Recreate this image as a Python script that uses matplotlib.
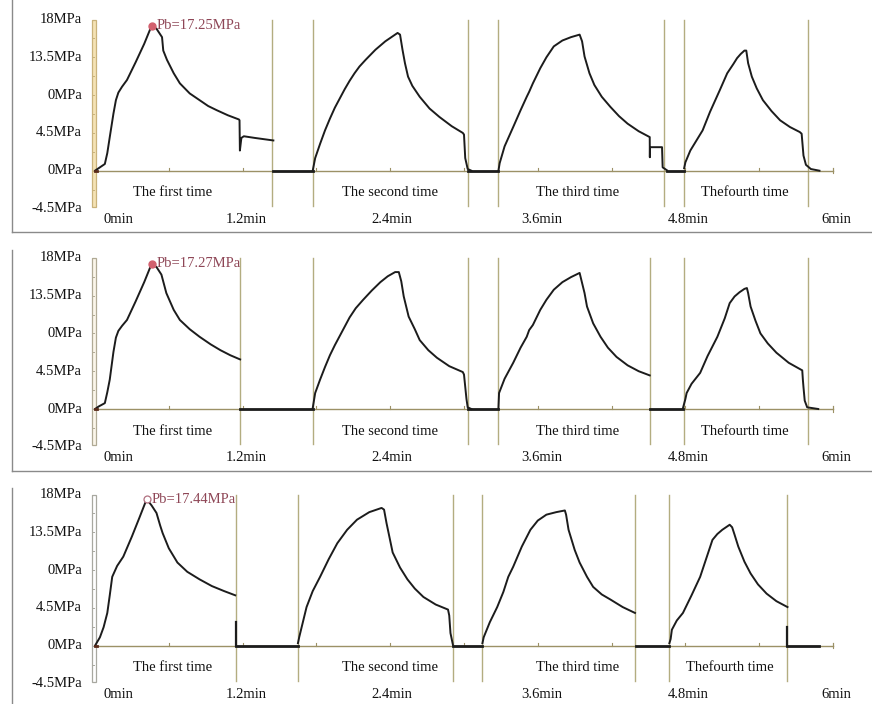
import matplotlib
matplotlib.use("Agg")
import matplotlib.pyplot as plt
from matplotlib.lines import Line2D
from matplotlib.patches import Rectangle

plt.rcParams['font.family'] = ['Liberation Serif', 'DejaVu Serif']

# y tick labels exactly as printed (the middle one says 0MPa in the source)
Y_VALUES = [18, 13.5, 9, 4.5, 0, -4.5]
Y_LABELS = ['18MPa', '13.5MPa', '0MPa', '4.5MPa', '0MPa', '-4.5MPa']
X_VALUES = [0, 1.2, 2.4, 3.6, 4.8, 6.0]
X_LABELS = ['0min', '1.2min', '2.4min', '3.6min', '4.8min', '6min']
RUN_NAMES = ['The first time', 'The second time', 'The third time', 'Thefourth time']

# ---- test 1 (top panel) ----
T1 = [
    [0, 0.03, 0.08, 0.10, 0.12, 0.15, 0.17, 0.19, 0.22, 0.26, 0.33, 0.40, 0.46, 0.50, 0.545,
     0.555, 0.585, 0.64, 0.69, 0.77, 0.85, 0.92, 0.99, 1.08, 1.17, 1.175, 1.178, 1.19, 1.21,
     1.30, 1.45],
    [1.77, 1.79, 1.83, 1.87, 1.91, 1.95, 1.99, 2.03, 2.07, 2.11, 2.15, 2.20, 2.24, 2.28, 2.32,
     2.36, 2.40, 2.44, 2.46, 2.48, 2.50, 2.52, 2.545, 2.58, 2.64, 2.72, 2.80, 2.90, 2.99, 3.00,
     3.01, 3.03, 3.06],
    [3.28, 3.29, 3.33, 3.40, 3.46, 3.51, 3.53, 3.56, 3.62, 3.67, 3.73, 3.80, 3.87, 3.94, 3.96,
     3.98, 4.02, 4.06, 4.12, 4.19, 4.26, 4.33, 4.42, 4.51, 4.511, 4.512, 4.61, 4.615, 4.65],
    [4.79, 4.80, 4.84, 4.89, 4.94, 5.00, 5.08, 5.14, 5.19, 5.22, 5.25, 5.28, 5.295, 5.31, 5.34,
     5.38, 5.43, 5.50, 5.57, 5.65, 5.73, 5.745, 5.76, 5.78, 5.82, 5.89],
]
P1 = [
    [0, 0.3, 0.8, 2.1, 4.0, 6.8, 8.4, 9.3, 10.0, 10.8, 12.9, 15.1, 17.25, 16.9, 15.9,
     14.3, 13.2, 11.6, 10.4, 9.2, 8.4, 7.7, 7.2, 6.6, 6.1, 6.0, 2.4, 3.9, 4.1, 3.9, 3.6],
    [0, 1.5, 3.2, 4.8, 6.2, 7.5, 8.6, 9.7, 10.7, 11.6, 12.4, 13.2, 13.8, 14.4, 14.9,
     15.4, 15.8, 16.2, 16.4, 16.2, 14.4, 12.8, 11.2, 10.1, 8.8, 7.4, 6.4, 5.3, 4.5, 4.3,
     1.5, 0.2, 0],
    [0, 0.9, 2.9, 5.2, 7.2, 8.8, 9.4, 10.4, 12.2, 13.5, 14.8, 15.5, 15.9, 16.2, 15.4,
     13.6, 11.6, 10.2, 8.8, 7.6, 6.5, 5.6, 4.7, 4.0, 1.6, 2.8, 2.8, 0.4, 0.05],
    [0.3, 1.0, 2.4, 3.6, 4.8, 7.0, 9.6, 11.6, 12.7, 13.4, 13.9, 14.3, 14.3, 12.8, 11.2,
     9.8, 8.4, 7.1, 6.0, 5.2, 4.6, 4.4, 1.8, 0.7, 0.2, 0],
]
FLAT1 = [(1.45, 1.77), (3.03, 3.28), (4.65, 4.79)]
DIV1 = [1.44, 1.77, 3.03, 3.28, 4.63, 4.79, 5.80]
PB1 = (0.46, 17.25, 'Pb=17.25MPa')

# ---- test 2 (middle panel) ----
T2 = [
    [0, 0.03, 0.08, 0.10, 0.12, 0.15, 0.17, 0.19, 0.22, 0.26, 0.33, 0.40, 0.46, 0.50, 0.54,
     0.56, 0.58, 0.64, 0.69, 0.77, 0.85, 0.94, 1.02, 1.10, 1.18],
    [1.77, 1.79, 1.83, 1.87, 1.91, 1.95, 1.99, 2.03, 2.07, 2.12, 2.18, 2.25, 2.32, 2.38, 2.44,
     2.47, 2.49, 2.51, 2.55, 2.60, 2.64, 2.71, 2.78, 2.88, 2.99, 3.00, 3.02, 3.03, 3.06],
    [3.28, 3.285, 3.33, 3.40, 3.46, 3.51, 3.53, 3.56, 3.62, 3.67, 3.73, 3.80, 3.87, 3.94,
     3.96, 3.98, 4.00, 4.05, 4.11, 4.17, 4.24, 4.33, 4.42, 4.51],
    [4.78, 4.80, 4.81, 4.85, 4.92, 4.98, 5.06, 5.12, 5.16, 5.20, 5.24, 5.28, 5.30, 5.31, 5.33,
     5.37, 5.41, 5.47, 5.54, 5.64, 5.75, 5.755, 5.76, 5.77, 5.79, 5.88],
]
P2 = [
    [0, 0.3, 0.7, 2.0, 3.5, 6.8, 8.5, 9.3, 9.9, 10.6, 12.8, 15.1, 17.27, 16.9, 16.0,
     14.9, 13.8, 11.8, 10.6, 9.5, 8.6, 7.7, 7.0, 6.4, 5.9],
    [0.1, 1.9, 3.5, 5.0, 6.4, 7.6, 8.7, 9.8, 10.9, 12.0, 13.0, 14.1, 15.1, 15.8, 16.3,
     16.3, 15.2, 13.4, 11.0, 9.5, 8.2, 7.0, 6.1, 5.1, 4.4, 4.1, 1.2, 0.2, 0],
    [0.1, 1.9, 3.6, 5.5, 7.3, 8.6, 9.4, 10.0, 11.8, 13.0, 14.2, 15.1, 15.7, 16.2,
     15.0, 13.8, 12.2, 10.2, 8.6, 7.3, 6.2, 5.2, 4.5, 4.0],
    [0.1, 1.2, 1.9, 3.0, 4.3, 6.3, 8.6, 10.8, 12.6, 13.4, 13.9, 14.3, 14.4, 13.8, 12.2,
     10.5, 9.0, 7.8, 6.7, 5.5, 4.6, 3.5, 2.6, 1.0, 0.2, 0],
]
FLAT2 = [(1.18, 1.77), (3.03, 3.28), (4.51, 4.78)]
DIV2 = [1.18, 1.77, 3.03, 3.28, 4.51, 4.79, 5.80]
PB2 = (0.46, 17.27, 'Pb=17.27MPa')

# ---- test 3 (bottom panel) ----
T3 = [
    [0, 0.04, 0.07, 0.10, 0.12, 0.14, 0.18, 0.23, 0.30, 0.36, 0.42, 0.46, 0.50, 0.53,
     0.55, 0.60, 0.67, 0.75, 0.85, 0.95, 1.05, 1.14],
    [1.65, 1.66, 1.69, 1.72, 1.77, 1.83, 1.90, 1.97, 2.05, 2.13, 2.23, 2.33, 2.35, 2.37,
     2.40, 2.42, 2.48, 2.54, 2.60, 2.67, 2.77, 2.87, 2.88, 2.89, 2.91],
    [3.15, 3.16, 3.21, 3.27, 3.32, 3.36, 3.40, 3.47, 3.54, 3.60, 3.67, 3.75, 3.82, 3.83,
     3.85, 3.90, 3.94, 4.00, 4.05, 4.12, 4.19, 4.29, 4.39],
    [4.67, 4.68, 4.69, 4.73, 4.78, 4.85, 4.92, 4.97, 5.02, 5.06, 5.10, 5.14, 5.16, 5.18, 5.20,
     5.23, 5.28, 5.33, 5.39, 5.46, 5.54, 5.63],
]
P3 = [
    [0, 1.0, 2.2, 3.9, 6.0, 8.2, 9.5, 10.6, 13.0, 15.2, 17.44, 16.7, 15.8, 14.3,
     13.4, 11.6, 9.9, 8.8, 7.9, 7.1, 6.5, 6.0],
    [0.3, 1.0, 2.8, 4.6, 6.5, 8.2, 10.3, 12.2, 13.8, 15.0, 15.9, 16.4, 16.2, 14.6,
     12.5, 11.1, 9.3, 7.9, 6.8, 5.8, 4.9, 4.3, 3.6, 1.5, 0.1],
    [0.3, 1.0, 2.8, 4.6, 6.4, 8.2, 9.4, 11.8, 13.8, 14.9, 15.6, 15.9, 16.1, 15.6,
     13.8, 11.4, 9.9, 8.2, 7.0, 6.1, 5.5, 4.6, 3.9],
    [0.3, 0.8, 1.9, 3.0, 3.9, 6.0, 8.2, 10.4, 12.6, 13.3, 13.8, 14.2, 14.4, 14.1, 13.2,
     11.8, 10.0, 8.6, 7.3, 6.2, 5.3, 4.6],
]
FLAT3 = [(1.15, 1.65), (2.91, 3.15), (4.40, 4.67), (5.63, 5.89)]
SPIKE3 = [(1.15, 2.8), (5.63, 2.2)]
DIV3 = [1.15, 1.65, 2.91, 3.15, 4.39, 4.67, 5.63]
PB3 = (0.42, 17.44, 'Pb=17.44MPa')

# ---- layout (pixels of the 872x704 picture) ----
W, H = 872, 704
PX_PER_MIN = 123.0
PX_PER_MPA = 8.4
X0 = 95.0
FS = 10.5
LINE_C = '#1c1c1c'
DIV_C = '#b3ad80'
AXIS_C = '#9c9166'
PB_C = '#8e4656'

fig = plt.figure(figsize=(W / 100, H / 100), dpi=100)


def fig_line(x0, y0, x1, y1):
    fig.add_artist(Line2D([x0 / W, x1 / W], [1 - y0 / H, 1 - y1 / H],
                          transform=fig.transFigure, color='#8a8a8a', lw=1.0))


def panel(top, bot, zero, T, P, flats, divs, pb, name_pos, bar_fill, bar_edge,
          pb_hollow=False, spikes=()):
    ax = fig.add_axes([0, 1 - bot / H, 1, (bot - top) / H])
    ax.set_xlim(-X0 / PX_PER_MIN, (W - X0) / PX_PER_MIN)
    ax.set_ylim((zero - bot) / PX_PER_MPA, (zero - top) / PX_PER_MPA)
    ax.set_axis_off()

    # y "axis" bar with tick marks
    ax.add_patch(Rectangle((-0.024, -4.3), 0.032, 22.3, facecolor=bar_fill,
                           edgecolor=bar_edge, lw=0.9, zorder=2))
    k = -4.5
    while k <= 18.01:
        if k > -4.3:
            ax.plot([-0.024, -0.012], [k, k], color=bar_edge, lw=0.7, zorder=3)
        k += 2.25

    for v, lab in zip(Y_VALUES, Y_LABELS):
        ax.text(-0.105, v, lab, ha='right', va='center', fontsize=FS, color='#111111')

    # x baseline with small ticks every 0.6 min
    ax.plot([0, 6], [0, 0], color=AXIS_C, lw=1.0, zorder=2)
    for i in range(1, 11):
        ax.plot([i * 0.6, i * 0.6], [0, 0.35], color=AXIS_C, lw=0.8, zorder=2)
    ax.plot([6, 6], [-0.3, 0.3], color=AXIS_C, lw=0.8)

    for d in divs:
        ax.plot([d, d], [-4.2, 18.0], color=DIV_C, lw=1.0, zorder=1)

    for t, p in zip(T, P):
        ax.plot(t, p, color=LINE_C, lw=1.4, zorder=4, solid_joinstyle='round')
    for a, b in flats:
        ax.plot([a, b], [0, 0], color=LINE_C, lw=2.0, zorder=4)
    for s, h in spikes:
        ax.plot([s, s], [0, h], color=LINE_C, lw=1.6, zorder=4)

    ax.plot([0, 0.02], [0, 0], color='#5a2a1a', lw=2.0, zorder=5)

    # breakdown pressure marker
    px, py, ptxt = pb
    if pb_hollow:
        ax.plot(px, py, 'o', ms=5, mfc='white', mec='#b07080', mew=0.9, zorder=6)
    else:
        ax.plot(px, py, 'o', ms=5, color='#d2606e', zorder=6)
    ax.text(px + 0.04, py, ptxt, ha='left', va='center', fontsize=FS, color=PB_C)

    for x, name in zip(name_pos, RUN_NAMES):
        ax.text(x, -2.65, name, ha='center', va='center', fontsize=FS, color='#111111')

    nudges = [0.19, 0.03, 0.01, 0.03, 0.02, 0.03]
    for v, lab, n in zip(X_VALUES, X_LABELS, nudges):
        ax.text(v + n, -5.75, lab, ha='center', va='center', fontsize=FS, color='#111111')
    return ax


panel(0, 236, 170.7, T1, P1, FLAT1, DIV1, PB1, [0.63, 2.40, 3.92, 5.28],
      '#f5e3b5', '#c9b27a')
panel(238, 474, 409.0, T2, P2, FLAT2, DIV2, PB2, [0.63, 2.40, 3.92, 5.28],
      '#fbf6ea', '#b0aa95')
panel(476, 704, 645.7, T3, P3, FLAT3, DIV3, PB3, [0.63, 2.40, 3.92, 5.16],
      '#ffffff', '#a8a8a0', pb_hollow=True, spikes=SPIKE3)

# panel frames
fig_line(12, 0, 12, 232)
fig_line(12, 232, W, 232)
fig_line(12, 250, 12, 471)
fig_line(12, 471, W, 471)
fig_line(12, 488, 12, H)

fig.savefig('out.png', dpi=100)
